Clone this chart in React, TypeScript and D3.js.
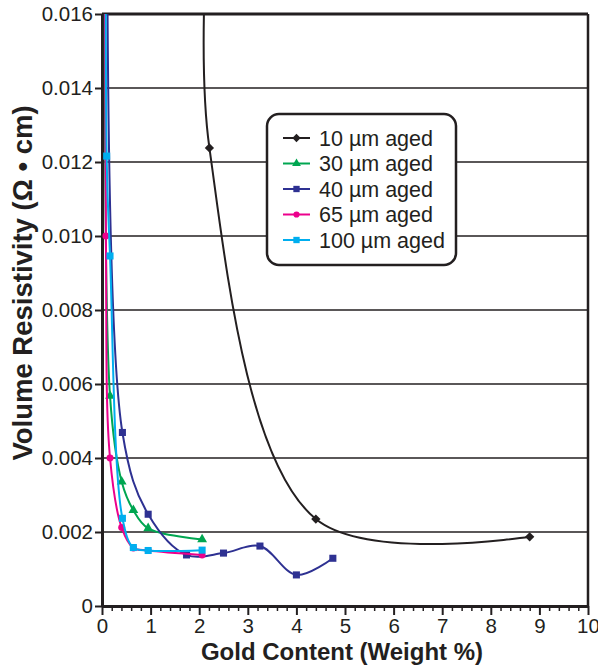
import React, { useEffect, useRef } from "react";
import * as d3 from "d3";

// gold content (weight %) vs volume resistivity (ohm cm)
// the first point of most sets sits above 0.016, the line is clipped there
const gold10 = [2.2, 2.21, 4.4, 8.8];
const res10 = [0.019, 0.01238, 0.00235, 0.00187];

const gold30 = [0.11, 0.165, 0.405, 0.645, 0.95, 2.06];
const res30 = [0.03, 0.00568, 0.00336, 0.00259, 0.0021, 0.0018];

const gold40 = [0.12, 0.42, 0.95, 1.74, 2.5, 3.25, 4.0, 4.75];
const res40 = [0.025, 0.00469, 0.00248, 0.00138, 0.00143, 0.00162, 0.00084, 0.00129];

const gold65 = [0.06, 0.08, 0.165, 0.405, 0.645, 0.95, 2.06];
const res65 = [0.025, 0.01, 0.004, 0.00212, 0.00157, 0.0015, 0.00138];

const gold100 = [0.09, 0.096, 0.165, 0.42, 0.645, 0.95, 2.06];
const res100 = [0.025, 0.01216, 0.00946, 0.00237, 0.00158, 0.0015, 0.00151];

const seriesNames = ["10 µm aged", "30 µm aged", "40 µm aged", "65 µm aged", "100 µm aged"];
const seriesColors = ["#231f20", "#00a651", "#2e3192", "#ec008c", "#00aeef"];

const xTickLabels = ["0", "1", "2", "3", "4", "5", "6", "7", "8", "9", "10"];
const yTickLabels = ["0", "0.002", "0.004", "0.006", "0.008", "0.010", "0.012", "0.014", "0.016"];

const font = "'Liberation Sans', Arial, Helvetica, sans-serif";
const ink = "#231f20";

const drawChart = (svgEl: SVGSVGElement) => {
  const width = 598;
  const height = 665;
  const marginTop = 14;
  const marginRight = 10;
  const marginBottom = 59;
  const marginLeft = 102;

  const svg = d3.select(svgEl);
  svg.selectAll("*").remove();

  const x = d3.scaleLinear().domain([0, 10]).range([marginLeft, width - marginRight]);
  const y = d3.scaleLinear().domain([0, 0.016]).range([height - marginBottom, marginTop]);

  const xTicks = xTickLabels.map(Number);
  const yTicks = yTickLabels.map(Number);

  // horizontal grid
  svg
    .append("g")
    .selectAll("line")
    .data(yTicks.slice(1, -1))
    .join("line")
    .attr("x1", x(0))
    .attr("x2", x(10))
    .attr("y1", (d) => y(d))
    .attr("y2", (d) => y(d))
    .attr("stroke", ink)
    .attr("stroke-width", 1.5);

  // top and right frame
  svg
    .append("line")
    .attr("x1", x(0))
    .attr("x2", x(10))
    .attr("y1", y(0.016))
    .attr("y2", y(0.016))
    .attr("stroke", ink)
    .attr("stroke-width", 3);
  svg
    .append("line")
    .attr("x1", x(10))
    .attr("x2", x(10))
    .attr("y1", y(0.016))
    .attr("y2", y(0))
    .attr("stroke", ink)
    .attr("stroke-width", 2.5);

  // minor x ticks
  const minor = d3.range(0, 50).map((i) => i * 0.2).filter((v) => Math.abs(v - Math.round(v)) > 0.01);
  svg
    .append("g")
    .attr("transform", `translate(0,${y(0)})`)
    .call(d3.axisBottom(x).tickValues(minor).tickSize(5).tickFormat(() => ""))
    .call((g) => g.select(".domain").remove())
    .call((g) => g.selectAll(".tick line").attr("stroke", ink).attr("stroke-width", 1.5));

  // x axis
  svg
    .append("g")
    .attr("transform", `translate(0,${y(0)})`)
    .call(
      d3
        .axisBottom(x)
        .tickValues(xTicks)
        .tickSize(9)
        .tickSizeOuter(0)
        .tickPadding(3)
        .tickFormat((d, i) => xTickLabels[i])
    )
    .call((g) => g.select(".domain").attr("stroke", ink).attr("stroke-width", 3))
    .call((g) => g.selectAll(".tick line").attr("stroke", ink).attr("stroke-width", 2))
    .call((g) =>
      g.selectAll(".tick text").attr("fill", ink).attr("font-family", font).attr("font-size", 20.5)
    );

  // y axis
  svg
    .append("g")
    .attr("transform", `translate(${x(0)},0)`)
    .call(
      d3
        .axisLeft(y)
        .tickValues(yTicks)
        .tickSize(7)
        .tickSizeOuter(0)
        .tickPadding(2)
        .tickFormat((d, i) => yTickLabels[i])
    )
    .call((g) => g.select(".domain").attr("stroke", ink).attr("stroke-width", 3))
    .call((g) => g.selectAll(".tick line").attr("stroke", ink).attr("stroke-width", 2))
    .call((g) =>
      g.selectAll(".tick text").attr("fill", ink).attr("font-family", font).attr("font-size", 20.5)
    );

  // axis titles
  svg
    .append("text")
    .attr("x", 342)
    .attr("y", 660)
    .attr("text-anchor", "middle")
    .attr("font-family", font)
    .attr("font-weight", "bold")
    .attr("font-size", 24)
    .attr("fill", ink)
    .text("Gold Content (Weight %)");

  svg
    .append("text")
    .attr("transform", "translate(32,283) rotate(-90)")
    .attr("text-anchor", "middle")
    .attr("font-family", font)
    .attr("font-weight", "bold")
    .attr("font-size", 27.5)
    .attr("fill", ink)
    .text("Volume Resistivity (Ω • cm)");

  // series
  const series = [
    [gold10, res10],
    [gold30, res30],
    [gold40, res40],
    [gold65, res65],
    [gold100, res100],
  ];
  const symbols = [d3.symbolDiamond2, d3.symbolTriangle, d3.symbolSquare, d3.symbolCircle, d3.symbolSquare];
  const symbolSizes = [55, 42, 50, 38, 50];

  svg
    .append("clipPath")
    .attr("id", "plot-clip")
    .append("rect")
    .attr("x", x(0))
    .attr("y", y(0.016))
    .attr("width", x(10) - x(0))
    .attr("height", y(0) - y(0.016));

  const line = d3
    .line<number[]>()
    .x((d) => x(d[0]))
    .y((d) => y(d[1]))
    .curve(d3.curveCatmullRom.alpha(0.5));

  series.forEach(([gx, ry], i) => {
    const pts = gx.map((g, j) => [g, ry[j]]);
    svg
      .append("path")
      .attr("clip-path", "url(#plot-clip)")
      .attr("d", line(pts))
      .attr("fill", "none")
      .attr("stroke", seriesColors[i])
      .attr("stroke-width", 2);

    svg
      .append("g")
      .selectAll("path")
      .data(pts.filter((p) => p[1] <= 0.016))
      .join("path")
      .attr("transform", (p) => `translate(${x(p[0])},${y(p[1])})`)
      .attr("d", d3.symbol().type(symbols[i]).size(symbolSizes[i])())
      .attr("fill", seriesColors[i]);
  });

  // legend
  const legendX = 267;
  const legendY = 114;
  const legend = svg.append("g");
  legend
    .append("rect")
    .attr("x", legendX)
    .attr("y", legendY)
    .attr("width", 189)
    .attr("height", 151)
    .attr("rx", 12)
    .attr("fill", "white")
    .attr("stroke", ink)
    .attr("stroke-width", 2.5);

  seriesNames.forEach((name, i) => {
    const cy = legendY + 24 + i * 25.5;
    legend
      .append("line")
      .attr("x1", legendX + 16)
      .attr("x2", legendX + 43)
      .attr("y1", cy)
      .attr("y2", cy)
      .attr("stroke", seriesColors[i])
      .attr("stroke-width", 2);
    legend
      .append("path")
      .attr("transform", `translate(${legendX + 29.5},${cy})`)
      .attr("d", d3.symbol().type(symbols[i]).size(symbolSizes[i] * 0.8)())
      .attr("fill", seriesColors[i]);
    legend
      .append("text")
      .attr("x", legendX + 52)
      .attr("y", cy + 7.5)
      .attr("font-family", font)
      .attr("font-size", 21.5)
      .attr("fill", ink)
      .text(name);
  });
};

export default function App() {
  const ref = useRef<SVGSVGElement>(null);

  useEffect(() => {
    if (ref.current) drawChart(ref.current);
  }, []);

  return (
    <svg
      ref={ref}
      width={598}
      height={665}
      style={{ position: "absolute", left: 0, top: 0, background: "white" }}
    />
  );
}
